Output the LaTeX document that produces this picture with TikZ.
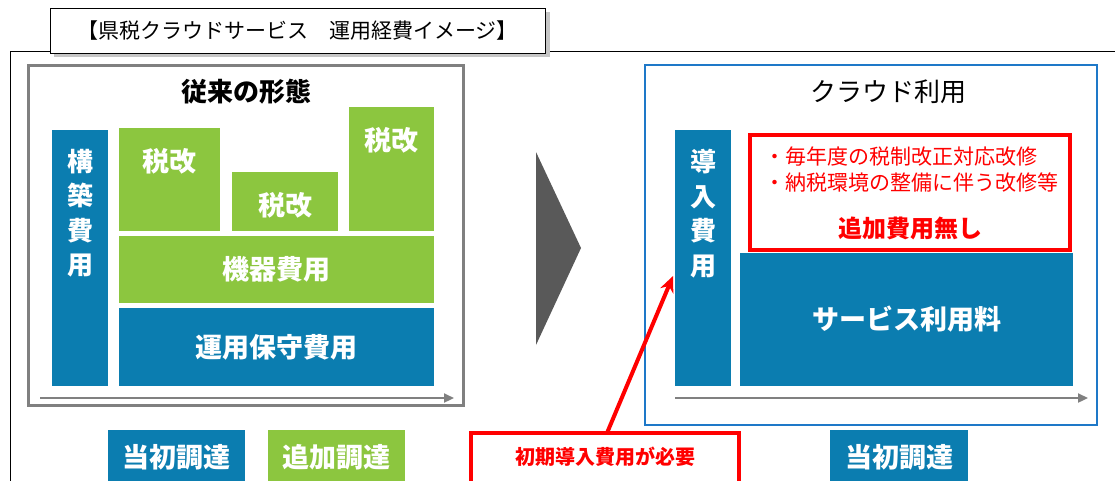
\documentclass[tikz,border=0pt]{standalone}
\usepackage{fontspec}
\setmainfont{Noto Sans CJK JP}
\usetikzlibrary{arrows.meta}
\definecolor{cblue}{HTML}{0B7DB0}
\definecolor{cgreen}{HTML}{8CC63F}
\definecolor{cgray}{HTML}{808080}
\definecolor{pblue}{HTML}{1E78C8}
\definecolor{dgray}{HTML}{595959}
\definecolor{cred}{HTML}{FF0000}
\newcommand{\fs}[1]{\fontsize{#1}{#1}\selectfont}
\begin{document}
\begin{tikzpicture}[x=1pt,y=-1pt,
  blk/.style={inner sep=0pt, outer sep=0pt, anchor=north west},
  bluebox/.style={blk, fill=cblue},
  greenbox/.style={blk, fill=cgreen},
  wtxt/.style={text=white, font=\fs{27}\bfseries, inner sep=0pt},
  vtxt/.style={text=white, font=\fontsize{26}{34.5}\selectfont\bfseries, align=center, inner sep=0pt, anchor=north},
  axis/.style={cgray, line width=2.2pt, -{Triangle[length=10pt,width=9pt]}},
  redframe/.style={blk, draw=cred, line width=4pt, fill=white},
]
\useasboundingbox (0,0) rectangle (1115,480);

% outer frame
\draw[black, line width=1pt] (10,485) |- (1120,51);

% title box with shadow
\fill[gray!45] (54,12) rectangle (550,57);
\node[blk, draw=black, line width=1pt, fill=white, minimum width=495, minimum height=45] (title) at (50,8) {};
\node[font=\fs{21}, inner sep=0pt] at (title.center) {【県税クラウドサービス　運用経費イメージ】};

% ---------------- left panel
\node[blk, draw=cgray, line width=3pt, minimum width=435, minimum height=340] (oldp) at (28,65) {};
\node[font=\fs{26}\bfseries, inner sep=0pt] (oldt) at (246,92) {従来の形態};

\node[bluebox, minimum width=56, minimum height=256] (kbar) at (52,130) {};
\node[vtxt] (ktxt) at ([yshift=-19]kbar.north) {構\\築\\費\\用};

\node[greenbox, minimum width=101, minimum height=103] (z1) at (119,128) {};
\node[wtxt] at ([yshift=-33]z1.north) {税改};
\node[greenbox, minimum width=106, minimum height=59] (z2) at (232,172) {};
\node[wtxt] at ([yshift=-33]z2.north) {税改};
\node[greenbox, minimum width=85, minimum height=124] (z3) at (349,107) {};
\node[wtxt] at ([yshift=-33]z3.north) {税改};

\node[greenbox, minimum width=315, minimum height=67] (kiki) at (119,236) {};
\node[wtxt] at (kiki.center) {機器費用};
\node[bluebox, minimum width=315, minimum height=78] (unyo) at (119,308) {};
\node[wtxt] at (unyo.center) {運用保守費用};

\coordinate (la0) at (40,398);
\coordinate (la1) at (454,398);
\draw[axis] (la0) -- (la1);

\node[bluebox, minimum width=137, minimum height=60] (toshoL) at (108,430) {};
\node[wtxt] at ([yshift=3]toshoL.center) {当初調達};
\node[greenbox, minimum width=137, minimum height=60] (tsuika) at (268,430) {};
\node[wtxt] at ([yshift=3]tsuika.center) {追加調達};

% big arrow
\fill[dgray] (536,152) -- (581,248) -- (536,345) -- cycle;

% ---------------- right panel
\node[blk, draw=pblue, line width=2.5pt, minimum width=452, minimum height=360] (newp) at (645,65) {};
\node[font=\fs{26}, inner sep=0pt] (newt) at (888,92) {クラウド利用};

\node[bluebox, minimum width=56, minimum height=256] (dbar) at (675,130) {};
\node[vtxt] (dtxt) at ([yshift=-19]dbar.north) {導\\入\\費\\用};

\node[bluebox, minimum width=333, minimum height=133] (svc) at (740,253) {};
\node[wtxt] at (svc.center) {サービス利用料};

\node[redframe, minimum width=320, minimum height=115] (nofee) at (750,135) {};
\node[text=cred, font=\fs{21}, anchor=west, inner sep=0pt] at (764,157) {・毎年度の税制改正対応改修};
\node[text=cred, font=\fs{21}, anchor=west, inner sep=0pt] at (764,183) {・納税環境の整備に伴う改修等};
\node[text=cred, font=\fs{24}\bfseries, inner sep=0pt] at (910,228) {追加費用無し};

\coordinate (ra0) at (675,398);
\coordinate (ra1) at (1088,398);
\draw[axis] (ra0) -- (ra1);

\node[bluebox, minimum width=138, minimum height=60] (toshoR) at (830,430) {};
\node[wtxt] at ([yshift=3]toshoR.center) {当初調達};

\node[redframe, minimum width=268, minimum height=60] (need) at (471,433) {};
\node[text=cred, font=\fs{20}\bfseries, inner sep=0pt] at ([yshift=6]need.center) {初期導入費用が必要};

\coordinate (tip) at (673,276);
\draw[cred, line width=4pt, -{Stealth[length=16pt,width=14pt]}] (607,433) -- (tip);
\end{tikzpicture}
\end{document}
